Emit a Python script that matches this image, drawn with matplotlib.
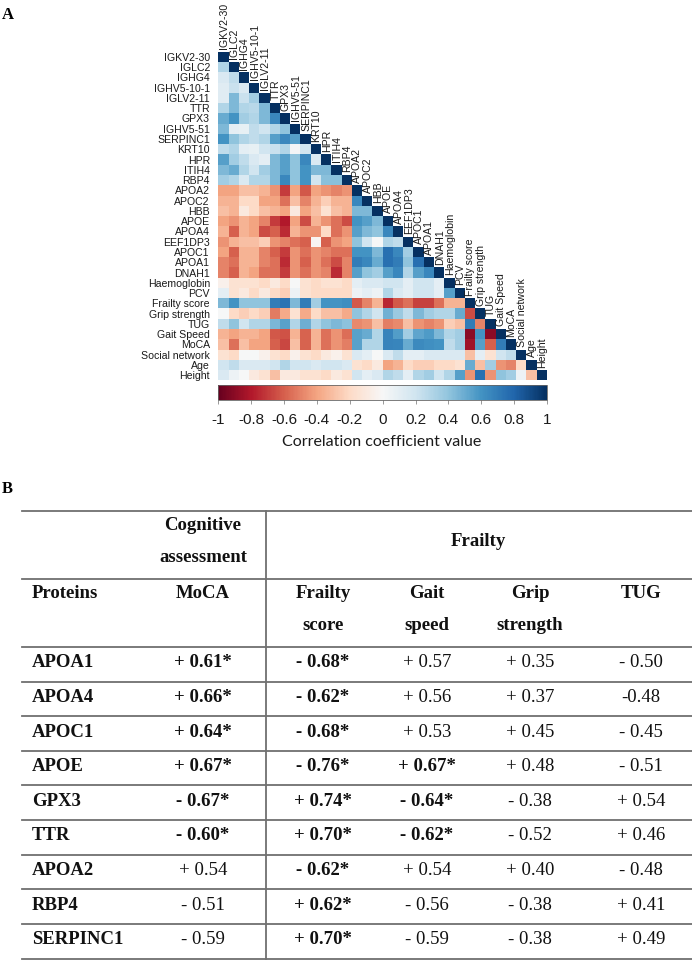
import numpy as np
import matplotlib
matplotlib.use("Agg")
from matplotlib import pyplot as plt

W, H = 692, 961

# ---- panel A data: lower triangle of the correlation matrix ----
labels = ['IGKV2-30', 'IGLC2', 'IGHG4', 'IGHV5-10-1', 'IGLV2-11', 'TTR', 'GPX3',
          'IGHV5-51', 'SERPINC1', 'KRT10', 'HPR', 'ITIH4', 'RBP4', 'APOA2', 'APOC2',
          'HBB', 'APOE', 'APOA4', 'EEF1DP3', 'APOC1', 'APOA1', 'DNAH1', 'Haemoglobin',
          'PCV', 'Frailty score', 'Grip strength', 'TUG', 'Gait Speed', 'MoCA',
          'Social network', 'Age', 'Height']

# row i holds correlations with columns 0..i-1
corr_rows = [
  [],
  [0.30],
  [0.15, 0.25],
  [0.12, 0.22, 0.15],
  [0.12, 0.45, 0.22, 0.35],
  [0.30, 0.45, 0.30, 0.28, 0.45],
  [0.50, 0.60, 0.35, 0.30, 0.45, 0.65],
  [0.45, 0.10, 0.08, 0.25, 0.20, 0.30, 0.40],
  [0.60, 0.40, 0.30, 0.25, 0.30, 0.55, 0.65, 0.55],
  [0.25, 0.30, 0.10, 0.08, 0.20, 0.22, 0.30, 0.02, 0.20],
  [0.55, 0.35, 0.25, 0.15, 0.10, 0.45, 0.55, 0.40, 0.65, 0.15],
  [0.45, 0.50, 0.30, 0.20, 0.35, 0.45, 0.55, 0.40, 0.60, 0.45, 0.45],
  [0.35, 0.30, 0.15, 0.30, 0.30, 0.45, 0.65, 0.40, 0.60, 0.20, 0.42, 0.42],
  [-0.40, -0.40, -0.30, -0.30, -0.35, -0.45, -0.70, -0.40, -0.62, -0.40, -0.45, -0.50, -0.45],
  [-0.35, -0.35, -0.20, -0.20, -0.40, -0.40, -0.55, -0.30, -0.50, -0.35, -0.25, -0.35, -0.35, 0.65],
  [-0.30, -0.35, -0.10, -0.20, -0.30, -0.35, -0.40, -0.10, -0.40, -0.30, -0.15, -0.30, -0.35, 0.45, 0.45],
  [-0.40, -0.45, -0.35, -0.40, -0.50, -0.70, -0.80, -0.40, -0.65, -0.35, -0.45, -0.55, -0.65, 0.60, 0.55, 0.45],
  [-0.35, -0.60, -0.35, -0.40, -0.65, -0.60, -0.75, -0.35, -0.45, -0.45, -0.20, -0.55, -0.45, 0.55, 0.45, 0.40, 0.65],
  [-0.45, -0.35, -0.30, -0.30, -0.25, -0.45, -0.50, -0.55, -0.60, -0.02, -0.60, -0.45, -0.40, 0.40, 0.20, 0.00, 0.30, 0.25],
  [-0.40, -0.60, -0.35, -0.35, -0.50, -0.60, -0.70, -0.45, -0.55, -0.45, -0.50, -0.55, -0.55, 0.60, 0.60, 0.45, 0.75, 0.65, 0.35],
  [-0.50, -0.55, -0.35, -0.35, -0.50, -0.55, -0.75, -0.45, -0.60, -0.45, -0.55, -0.65, -0.50, 0.70, 0.65, 0.50, 0.75, 0.70, 0.40, 0.75],
  [-0.50, -0.60, -0.35, -0.40, -0.55, -0.55, -0.70, -0.45, -0.55, -0.45, -0.50, -0.75, -0.50, 0.55, 0.40, 0.35, 0.55, 0.65, 0.30, 0.55, 0.65],
  [-0.05, -0.15, -0.15, -0.15, -0.20, -0.10, -0.20, 0.00, -0.15, -0.20, -0.15, -0.15, -0.20, 0.10, 0.15, 0.15, 0.20, 0.20, 0.10, 0.20, 0.20, 0.10],
  [0.10, -0.15, -0.10, -0.20, -0.10, -0.20, -0.25, 0.05, -0.15, -0.20, -0.20, -0.20, -0.20, 0.05, 0.10, 0.05, 0.30, 0.15, 0.10, 0.20, 0.20, 0.10, 0.55],
  [0.45, 0.60, 0.40, 0.40, 0.40, 0.70, 0.74, 0.45, 0.70, 0.35, 0.60, 0.60, 0.62, -0.62, -0.50, -0.35, -0.76, -0.62, -0.55, -0.68, -0.68, -0.55, -0.35, -0.35],
  [0.00, -0.20, -0.25, -0.20, -0.25, -0.52, -0.38, -0.15, -0.38, -0.20, -0.30, -0.30, -0.38, 0.40, 0.30, 0.20, 0.48, 0.37, 0.25, 0.45, 0.35, 0.30, 0.30, 0.50, -0.65],
  [0.25, 0.40, 0.20, 0.30, 0.30, 0.46, 0.54, 0.30, 0.49, 0.30, 0.40, 0.45, 0.41, -0.48, -0.45, -0.30, -0.51, -0.48, -0.30, -0.45, -0.50, -0.45, -0.25, -0.30, 0.70, -0.50],
  [-0.35, -0.40, -0.35, -0.35, -0.40, -0.62, -0.64, -0.35, -0.59, -0.35, -0.55, -0.45, -0.56, 0.54, 0.50, 0.30, 0.67, 0.56, 0.35, 0.53, 0.57, 0.45, 0.30, 0.35, -0.90, 0.60, -0.90],
  [-0.30, -0.55, -0.30, -0.40, -0.40, -0.60, -0.67, -0.30, -0.59, -0.35, -0.55, -0.45, -0.51, 0.54, 0.30, 0.30, 0.67, 0.66, 0.50, 0.64, 0.61, 0.60, 0.25, 0.35, -0.85, 0.55, -0.60, 0.70],
  [-0.15, -0.20, 0.00, 0.00, -0.05, -0.15, -0.20, -0.05, -0.15, -0.20, -0.10, -0.05, -0.15, 0.15, 0.10, 0.00, 0.15, 0.25, 0.10, 0.10, 0.15, 0.15, 0.15, 0.15, -0.30, 0.10, -0.15, 0.20, 0.25],
  [0.20, 0.25, 0.15, 0.15, 0.15, 0.20, 0.30, 0.20, 0.20, 0.15, 0.20, 0.20, 0.15, -0.15, -0.20, -0.10, -0.40, -0.35, -0.20, -0.25, -0.25, -0.20, -0.20, -0.15, 0.50, -0.30, 0.35, -0.45, -0.50, -0.20],
  [0.15, 0.05, 0.00, -0.10, -0.15, -0.30, -0.10, -0.10, -0.15, -0.15, -0.20, -0.10, -0.15, 0.20, 0.10, 0.15, 0.30, 0.25, 0.10, 0.30, 0.35, 0.20, 0.30, 0.55, -0.45, 0.75, -0.45, 0.40, 0.35, 0.05, -0.30],
]
cbar_ticks = [-1, -0.8, -0.6, -0.4, -0.2, 0, 0.2, 0.4, 0.6, 0.8, 1]

# ---- panel B data ----
proteins = ['APOA1', 'APOA4', 'APOC1', 'APOE', 'GPX3', 'TTR', 'APOA2', 'RBP4', 'SERPINC1']
moca = ['+ 0.61*', '+ 0.66*', '+ 0.64*', '+ 0.67*', '- 0.67*', '- 0.60*', '+ 0.54', '- 0.51', '- 0.59']
frailty_score = ['- 0.68*', '- 0.62*', '- 0.68*', '- 0.76*', '+ 0.74*', '+ 0.70*', '- 0.62*', '+ 0.62*', '+ 0.70*']
gait_speed = ['+ 0.57', '+ 0.56', '+ 0.53', '+ 0.67*', '- 0.64*', '- 0.62*', '+ 0.54', '- 0.56', '- 0.59']
grip_strength = ['+ 0.35', '+ 0.37', '+ 0.45', '+ 0.48', '- 0.38', '- 0.52', '+ 0.40', '- 0.38', '- 0.38']
tug = ['- 0.50', '-0.48', '- 0.45', '- 0.51', '+ 0.54', '+ 0.46', '- 0.48', '+ 0.41', '+ 0.49']

n = len(labels)
mat = np.full((n, n), np.nan)
for i, row in enumerate(corr_rows):
  mat[i, :i] = row
  mat[i, i] = 1.0
mat = np.ma.masked_invalid(mat)

fig = plt.figure(figsize=(W / 100, H / 100), dpi=100)

def frac(x0, y0, x1, y1):
  # pixel box (top-left origin) -> figure fraction rect
  return [x0 / W, 1 - y1 / H, (x1 - x0) / W, (y1 - y0) / H]

# overlay for table and panel letters, in pixel coordinates
ov = fig.add_axes([0, 0, 1, 1])
ov.set_xlim(0, W)
ov.set_ylim(H, 0)
ov.axis('off')
ov.patch.set_visible(False)

# heatmap
lab_kw = dict(fontsize=7.6, family='Liberation Sans', color='#1a1a1a')
ax = fig.add_axes(frac(218.3, 51.7, 547.0, 380.4))
mesh = ax.pcolormesh(np.arange(n + 1), np.arange(n + 1), mat, cmap='RdBu', vmin=-1, vmax=1)
ax.set_xlim(0, n)
ax.set_ylim(n, 0)
for s in ax.spines.values():
  s.set_visible(False)
ax.set_xticks([])
ax.set_yticks(np.arange(n) + 0.5)
ax.set_yticklabels(labels, **lab_kw)
ax.tick_params(axis='y', length=0, pad=6)
for c, lab in enumerate(labels):
  ax.text(c + 0.55, c - 0.25, lab, rotation=90, ha='center', va='bottom',
          clip_on=False, **lab_kw)

# colorbar
cax = fig.add_axes(frac(218.3, 385, 547.0, 400))
cb = fig.colorbar(mesh, cax=cax, orientation='horizontal', ticks=cbar_ticks)
cb.set_ticklabels(['%g' % t for t in cbar_ticks])
cb.outline.set_linewidth(0.6)
cb.outline.set_edgecolor('#666666')
cax.tick_params(axis='x', length=3, width=0.6, color='#888888', pad=6,
                labelsize=11, labelcolor='#1a1a1a')
for t in cax.get_xticklabels():
  t.set_family('Liberation Sans')
ov.text(382, 442, 'Correlation coefficient value', ha='center', va='center',
        fontsize=11.5, family='Lato', color='#1a1a1a')

# panel letters
ov.text(2, 15, 'A', ha='left', va='center', fontsize=12, fontweight='bold', family='Liberation Serif')
ov.text(2, 489, 'B', ha='left', va='center', fontsize=12, fontweight='bold', family='Liberation Serif')

# ---- table ----
lc = '#707070'
lw = 1.3
left, right = 22, W
ov.plot([left, right], [511, 511], color=lc, lw=lw)
ov.plot([left, right], [579, 579], color=lc, lw=lw)
top_body = 647
row_h = (958.5 - 647) / len(proteins)
for k in range(len(proteins) + 1):
  y = top_body + k * row_h
  ov.plot([left, right], [y, y], color=lc, lw=lw)
ov.plot([265.7, 265.7], [511, 958.5], color=lc, lw=lw)

tfont = dict(family='Liberation Serif', fontsize=13.5, color='#111111', va='center')
ov.text(203, 525, 'Cognitive', ha='center', fontweight='bold', **tfont)
ov.text(203, 557, 'assessment', ha='center', fontweight='bold', **tfont)
ov.text(478, 541, 'Frailty', ha='center', fontweight='bold', **tfont)

col_x = [203, 323, 427, 530, 641]
head1 = ['MoCA', 'Frailty', 'Gait', 'Grip', 'TUG']
head2 = ['', 'score', 'speed', 'strength', '']
ov.text(32, 593, 'Proteins', ha='left', fontweight='bold', **tfont)
for x, a, b in zip(col_x, head1, head2):
  ov.text(x, 593, a, ha='center', fontweight='bold', **tfont)
  if b:
    ov.text(x, 626, b, ha='center', fontweight='bold', **tfont)

cols = [moca, frailty_score, gait_speed, grip_strength, tug]
for i, p in enumerate(proteins):
  y = top_body + (i + 0.5) * row_h - 1.5
  ov.text(32, y, p, ha='left', fontweight='bold', **tfont)
  for x, col in zip(col_x, cols):
    v = col[i]
    ov.text(x, y, v, ha='center', fontweight='bold' if v.endswith('*') else 'normal', **tfont)

fig.savefig('out.png', dpi=100)
